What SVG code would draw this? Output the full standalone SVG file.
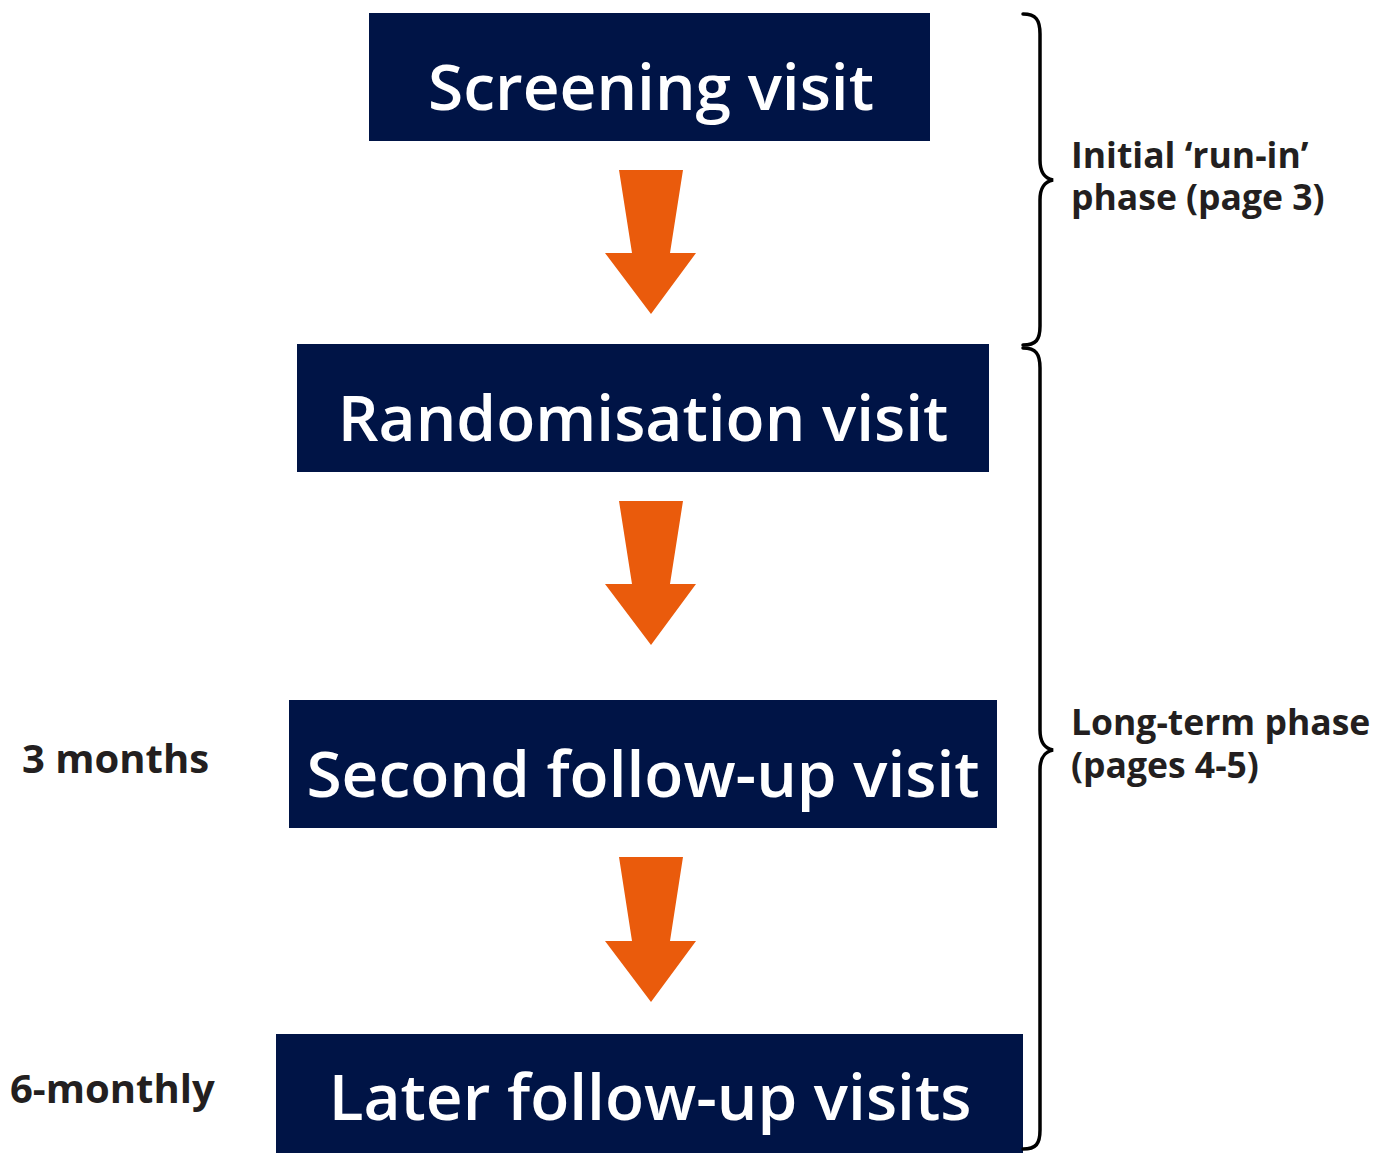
<svg xmlns="http://www.w3.org/2000/svg" width="1395" height="1153" viewBox="0 0 1395 1153">
<style>
.box{fill:#001446}
.bt{fill:#ffffff;font-family:"Open Sans","Liberation Sans",sans-serif;font-weight:600;font-size:64px;text-anchor:middle}
.arr{fill:#EA5B0C}
.lbl{fill:#231F20;font-family:"Open Sans","Liberation Sans",sans-serif;font-weight:700;font-size:35.5px}
.side{fill:#231F20;font-family:"Open Sans","Liberation Sans",sans-serif;font-weight:700;font-size:40px}
.brace{fill:none;stroke:#000;stroke-width:3.5;stroke-linecap:round}
</style>
<rect width="1395" height="1153" fill="#fff"/>
<g id="connectors">
<polygon class="arr" points="619,170 683,170 670,253 696,253 651,314 605,253 632,253"/>
<polygon class="arr" points="619,501 683,501 670,584 696,584 651,645 605,584 632,584"/>
<polygon class="arr" points="619,857 683,857 670,941 696,941 651,1002 605,941 632,941"/>
</g>
<g id="screening"><rect class="box" x="369" y="13" width="561" height="128"/><text class="bt" x="651" y="110">Screening visit</text></g>
<g id="randomisation"><rect class="box" x="297" y="344" width="692" height="128"/><text class="bt" x="643" y="441">Randomisation visit</text></g>
<g id="second"><rect class="box" x="289" y="700" width="708" height="128"/><text class="bt" x="643" y="797">Second follow-up visit</text></g>
<g id="later"><rect class="box" x="276" y="1034" width="747" height="119"/><text class="bt" x="650" y="1120">Later follow-up visits</text></g>
<g id="brace1">
<path class="brace" d="M1023,14 C1036,14 1040,20 1040,34 L1040,160 C1040,172 1044,178 1053,180 C1044,182 1040,188 1040,200 L1040,326 C1040,340 1036,345 1023,345"/>
<text class="lbl" x="1071" y="168">Initial ‘run-in’</text>
<text class="lbl" x="1071" y="210">phase (page 3)</text>
</g>
<g id="brace2">
<path class="brace" d="M1023,348 C1036,348 1040,354 1040,368 L1040,730 C1040,742 1044,748 1053,750 C1044,752 1040,758 1040,770 L1040,1130 C1040,1144 1036,1149 1023,1149"/>
<text class="lbl" x="1071" y="735">Long-term phase</text>
<text class="lbl" x="1071" y="778">(pages 4-5)</text>
</g>
<g id="t3"><text class="side" x="22" y="773">3 months</text></g>
<g id="t6"><text class="side" x="10" y="1103">6-monthly</text></g>
</svg>
